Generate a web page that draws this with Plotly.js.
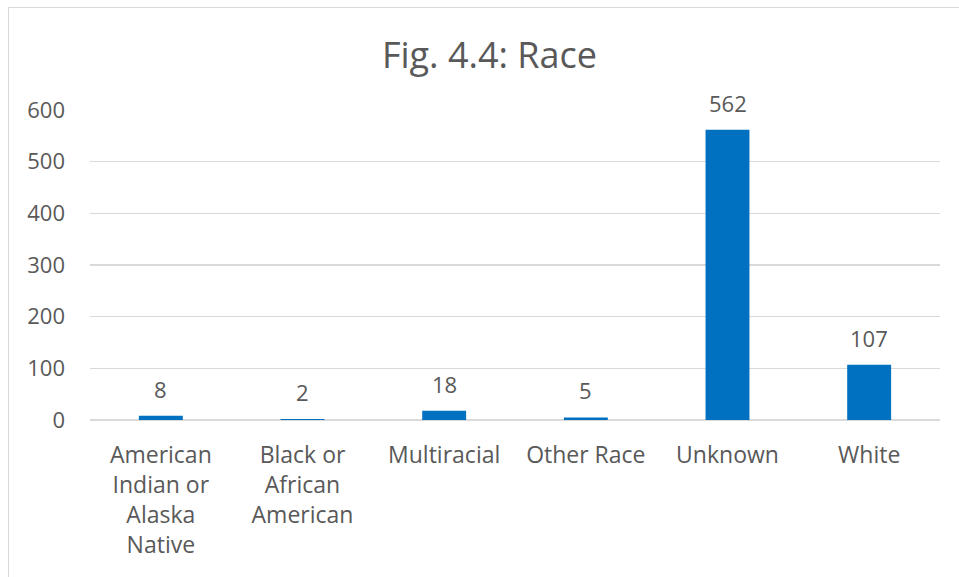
<!DOCTYPE html>
<html>
<head>
<meta charset="utf-8">
<script src="https://cdn.plot.ly/plotly-3.0.1.min.js"></script>
<style>
html,body{margin:0;padding:0;background:#fff;overflow:hidden;}
#chart{position:absolute;left:0;top:0;width:959px;height:577px;}
#frame{position:absolute;left:8px;top:7px;width:1000px;height:700px;border-left:1px solid #d9d9d9;border-top:1px solid #d9d9d9;pointer-events:none;}
</style>
</head>
<body>
<div id="chart"></div>
<div id="frame"></div>
<script>
const categories = ["American<br>Indian or<br>Alaska<br>Native", "Black or<br>African<br>American", "Multiracial", "Other Race", "Unknown", "White"];
const values = [8, 2, 18, 5, 562, 107];
const yTicks = [0, 100, 200, 300, 400, 500, 600];

const FONT = "Open Sans, sans-serif";
const TXT = "#595959";

const trace = {
  type: "bar",
  x: categories,
  y: values,
  marker: {color: "#0070C0"},
  width: 0.31,
  hoverinfo: "x+y"
};

const annotations = categories.map((c, i) => ({
  x: c, y: values[i], xref: "x", yref: "y",
  text: String(values[i]),
  showarrow: false, yanchor: "bottom", yshift: 10,
  font: {family: FONT, size: 22, color: TXT}
}));

const layout = {
  width: 959, height: 577,
  margin: {l: 90, r: 19, t: 110, b: 157},
  paper_bgcolor: "#fff", plot_bgcolor: "#fff",
  title: {text: "Fig. 4.4: Race", font: {family: FONT, size: 36, color: TXT},
          x: 0.5104, xref: "container", xanchor: "center",
          y: 1 - 55/577, yref: "container", yanchor: "middle"},
  xaxis: {type: "category", showgrid: false, showline: false, ticks: "",
          tickfont: {family: FONT, size: 23, color: TXT}, ticklabelstandoff: 19,
          fixedrange: true},
  yaxis: {range: [0, 600], tickvals: yTicks, ticktext: yTicks.map(String),
          showgrid: true, gridcolor: "#d9d9d9", gridwidth: 1.3,
          zeroline: true, zerolinecolor: "#d9d9d9", zerolinewidth: 1.3,
          showline: false, ticks: "",
          tickfont: {family: FONT, size: 22, color: TXT}, ticklabelstandoff: 24,
          fixedrange: true},
  annotations: annotations,
  showlegend: false,
  bargap: 0.69
};

Plotly.newPlot("chart", [trace], layout, {displayModeBar: false, staticPlot: true});
</script>
</body>
</html>
